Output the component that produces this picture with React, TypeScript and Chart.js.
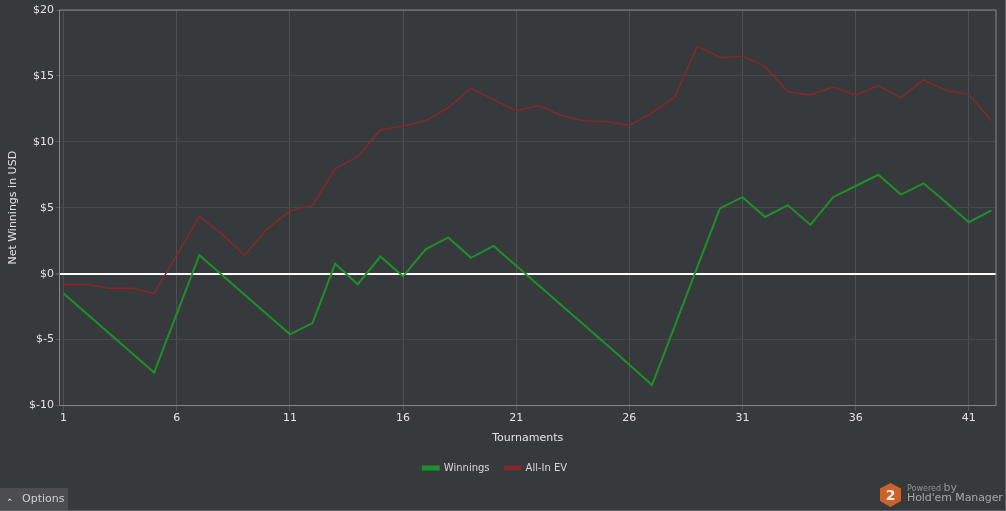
import React, { useEffect, useRef } from "react";
import { Chart, registerables } from "chart.js";

Chart.register(...registerables);

const tournaments = [1,2,3,4,5,6,7,8,9,10,11,12,13,14,15,16,17,18,19,20,21,22,23,24,25,26,27,28,29,30,31,32,33,34,35,36,37,38,39,40,41,42];
const winnings = [-1.5,-3,-4.5,-6,-7.5,-3.05,1.4,-0.1,-1.6,-3.1,-4.6,-3.75,0.75,-0.8,1.3,-0.2,1.85,2.75,1.2,2.1,0.6,-0.9,-2.4,-3.9,-5.4,-6.9,-8.45,-4,0.5,4.95,5.8,4.3,5.2,3.7,5.8,6.65,7.5,6,6.85,5.4,3.9,4.8];
const allInEv = [-0.8,-0.8,-1.1,-1.1,-1.5,1.4,4.35,3,1.4,3.4,4.75,5.2,7.95,8.9,10.9,11.2,11.6,12.6,14.05,13.2,12.35,12.75,12,11.6,11.55,11.25,12.2,13.4,17.25,16.4,16.5,15.7,13.8,13.55,14.15,13.55,14.25,13.35,14.7,13.9,13.6,11.6];
const xTicks = [1,6,11,16,21,26,31,36,41];
const yTicks = [-10,-5,0,5,10,15,20];

const BG = "#373a3d";
const FONT = "'DejaVu Sans', sans-serif";

const plotBorder = {
  id: "plotBorder",
  afterLayout(chart: any) {
    chart.legend.left -= 3;
    chart.legend.right -= 3;
  },
  afterDatasetsDraw(chart: any) {
    const { ctx, chartArea: a } = chart;
    ctx.save();
    ctx.strokeStyle = "#85888a";
    ctx.lineWidth = 1;
    ctx.strokeRect(a.left, a.top, a.right - a.left, a.bottom - a.top);
    ctx.restore();
  },
};

export default function App() {
  const ref = useRef<HTMLCanvasElement>(null);
  useEffect(() => {
    document.body.style.margin = "0";
    document.body.style.background = BG;
    const chart = new Chart(ref.current!, {
      type: "line",
      data: {
        labels: tournaments,
        datasets: [
          { label: "Winnings", data: tournaments.map((t, i) => ({ x: t, y: winnings[i] })), borderColor: "#1f8f2a", backgroundColor: "#1f8f2a", borderWidth: 2, pointRadius: 0, tension: 0 },
          { label: "All-In EV", data: tournaments.map((t, i) => ({ x: t, y: allInEv[i] })), borderColor: "#84282c", backgroundColor: "#84282c", borderWidth: 1.5, pointRadius: 0, tension: 0 },
        ],
      },
      options: {
        animation: false,
        responsive: false,
        devicePixelRatio: 1,
        layout: { padding: { top: 10, right: 10, left: 0, bottom: 28 } },
        plugins: {
          tooltip: { enabled: false },
          legend: {
            position: "bottom",
            labels: {
              color: "#d8d8d8",
              font: { family: FONT, size: 10 },
              boxWidth: 16,
              boxHeight: 3,
              padding: 15,
            },
          },
        },
        scales: {
          x: {
            type: "linear",
            min: 0.82,
            max: 42.2,
            afterBuildTicks(axis: any) { axis.ticks = xTicks.map((value) => ({ value })); },
            afterFit(axis: any) { axis.height = 42.5; },
            grid: { color: "#4e5154", lineWidth: 1, tickLength: 5, tickColor: "#53565a" },
            border: { display: false },
            ticks: { color: "#e4e4e4", font: { family: FONT, size: 11 }, autoSkip: false, maxRotation: 0, padding: 1, callback: (v: any) => String(v) },
            title: { display: true, text: "Tournaments", color: "#e4e4e4", font: { family: FONT, size: 11 }, padding: { top: 7, bottom: 3 } },
          },
          y: {
            type: "linear",
            min: -10,
            max: 20,
            afterBuildTicks(axis: any) { axis.ticks = yTicks.map((value) => ({ value })); },
            afterFit(axis: any) { axis.width = 59.5; },
            grid: {
              color: (c: any) => (c.tick && c.tick.value === 0 ? "#ffffff" : "#46494c"),
              lineWidth: (c: any) => (c.tick && c.tick.value === 0 ? 2 : 1),
              tickLength: 4,
              tickColor: "#53565a",
            },
            border: { display: false },
            ticks: { color: "#e4e4e4", font: { family: FONT, size: 11 }, padding: 1.5, callback: (v: any) => "$" + v },
            title: { display: true, text: "Net Winnings in USD", color: "#e4e4e4", font: { family: FONT, size: 11 }, padding: { top: 7, bottom: 0 } },
          },
        },
      },
      plugins: [plotBorder],
    } as any);
    return () => chart.destroy();
  }, []);

  return (
    <div style={{ position: "relative", width: 1006, height: 511, background: BG, overflow: "hidden", fontFamily: FONT }}>
      <canvas ref={ref} width={1006} height={511} style={{ position: "absolute", left: 0, top: 0, display: "block" }} />
      <div style={{ position: "absolute", right: 0, top: 0, width: 1, height: 511, background: "#5f6265" }} />
      <div style={{ position: "absolute", left: 0, bottom: 0, width: 1006, height: 1, background: "#5f6265" }} />
      <div style={{ position: "absolute", left: 0, top: 488, width: 68, height: 22, background: "#4b4d4f", color: "#cfcfcf", fontSize: 11, lineHeight: "22px" }}>
        <span style={{ position: "absolute", left: 6, top: 3, fontSize: 9, fontWeight: "bold" }}>⌃</span>
        <span style={{ position: "absolute", left: 22 }}>Options</span>
      </div>
      <svg width="24" height="26" style={{ position: "absolute", left: 879, top: 482 }} viewBox="0 0 24 26">
        <polygon points="11.5,1 22,6.5 22,19 11.5,25 1,19 1,6.5" fill="#c9622b" />
        <text x="11.5" y="18" textAnchor="middle" fill="#ececec" fontSize="14" fontWeight="bold" fontFamily={FONT}>2</text>
      </svg>
      <div style={{ position: "absolute", left: 907, top: 481, color: "#909294", whiteSpace: "nowrap", fontSize: 8 }}>
        Powered <span style={{ fontSize: 11 }}>by</span>
      </div>
      <div style={{ position: "absolute", left: 907, top: 491, color: "#a5a7a9", whiteSpace: "nowrap", fontSize: 11, letterSpacing: -0.1 }}>Hold'em Manager</div>
    </div>
  );
}
